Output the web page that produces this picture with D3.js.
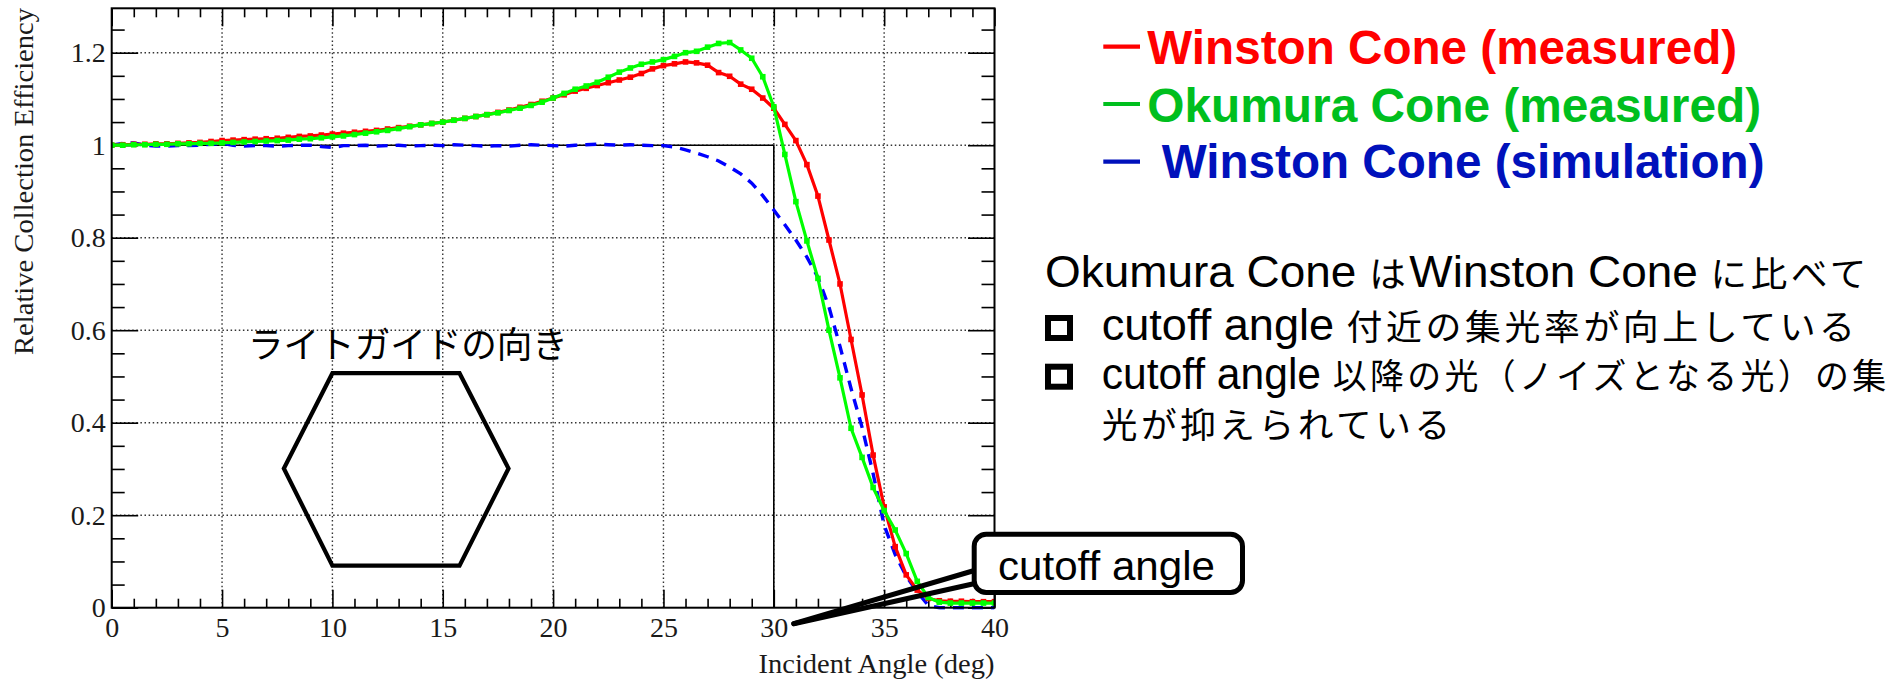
<!DOCTYPE html>
<html>
<head>
<meta charset="utf-8">
<script src="https://cdn.jsdelivr.net/npm/d3@7"></script>
<style>
  body { margin: 0; background: #fff; }
  svg { display: block; }
</style>
</head>
<body>
<svg id="chart" width="1897" height="680"></svg>
<script>
// Incident angle (deg) of each measurement point
const angles = [
  0, 0.5, 1, 1.5, 2, 2.5, 3, 3.5, 4, 4.5,
  5, 5.5, 6, 6.5, 7, 7.5, 8, 8.5, 9, 9.5,
  10, 10.5, 11, 11.5, 12, 12.5, 13, 13.5, 14, 14.5,
  15, 15.5, 16, 16.5, 17, 17.5, 18, 18.5, 19, 19.5,
  20, 20.5, 21, 21.5, 22, 22.5, 23, 23.5, 24, 24.5,
  25, 25.5, 26, 26.5, 27, 27.5, 28, 28.5, 29, 29.5,
  30, 30.5, 31, 31.5, 32, 32.5, 33, 33.5, 34, 34.5,
  35, 35.5, 36, 36.5, 37, 37.5, 38, 38.5, 39, 39.5,
  40
];

// Relative collection efficiency, Winston cone (measured)
const winstonMeasured = [
  1.000, 1.001, 1.002, 1.002, 1.003, 1.003, 1.004, 1.005, 1.006, 1.008,
  1.010, 1.011, 1.012, 1.013, 1.014, 1.015, 1.017, 1.019, 1.020, 1.022,
  1.024, 1.026, 1.028, 1.030, 1.032, 1.035, 1.038, 1.041, 1.044, 1.047,
  1.050, 1.054, 1.058, 1.062, 1.066, 1.071, 1.076, 1.082, 1.088, 1.095,
  1.102, 1.109, 1.117, 1.123, 1.129, 1.135, 1.141, 1.147, 1.155, 1.165,
  1.172, 1.176, 1.180, 1.178, 1.173, 1.157, 1.149, 1.132, 1.121, 1.102,
  1.080, 1.045, 1.010, 0.958, 0.890, 0.795, 0.700, 0.580, 0.460, 0.330,
  0.218, 0.132, 0.071, 0.038, 0.020, 0.015, 0.014, 0.014, 0.013, 0.013,
  0.013
];

// Relative collection efficiency, Okumura cone (measured)
const okumuraMeasured = [
  1.000, 1.000, 1.001, 1.001, 1.002, 1.002, 1.003, 1.003, 1.004, 1.004,
  1.005, 1.006, 1.007, 1.008, 1.009, 1.010, 1.011, 1.013, 1.014, 1.016,
  1.018, 1.020, 1.023, 1.026, 1.029, 1.032, 1.036, 1.040, 1.044, 1.047,
  1.050, 1.054, 1.058, 1.062, 1.066, 1.070, 1.075, 1.080, 1.086, 1.093,
  1.102, 1.112, 1.121, 1.128, 1.136, 1.147, 1.158, 1.167, 1.175, 1.180,
  1.185, 1.192, 1.200, 1.203, 1.212, 1.220, 1.222, 1.206, 1.188, 1.148,
  1.083, 0.980, 0.878, 0.793, 0.712, 0.600, 0.497, 0.388, 0.325, 0.260,
  0.210, 0.168, 0.117, 0.057, 0.022, 0.012, 0.010, 0.010, 0.010, 0.010,
  0.010
];

// Relative collection efficiency, Winston cone (simulation)
const winstonSimulation = [
  1.000, 1.004, 1.005, 1.000, 0.998, 0.998, 0.999, 0.999, 1.000, 1.002,
  1.004, 1.000, 0.998, 0.999, 0.999, 0.998, 0.999, 1.000, 1.000, 0.997,
  0.995, 0.999, 0.999, 1.000, 0.998, 0.999, 1.000, 0.998, 0.999, 1.000,
  0.999, 1.001, 1.000, 0.999, 0.998, 0.999, 0.998, 1.000, 1.001, 1.000,
  0.999, 0.998, 1.000, 1.001, 1.002, 1.001, 1.000, 1.001, 1.000, 0.999,
  0.999, 0.996, 0.990, 0.983, 0.975, 0.966, 0.953, 0.938, 0.918, 0.891,
  0.860, 0.828, 0.795, 0.758, 0.714, 0.650, 0.565, 0.474, 0.390, 0.290,
  0.178, 0.115, 0.068, 0.034, 0.005, 0.000, 0.000, 0.000, 0.000, 0.000,
  0.000
];

// Ideal acceptance of a cone with a 30 deg cutoff
const idealAngles = [0, 30, 30];
const idealEfficiency = [1, 1, 0];

// Axis ticks
const xTicks = [0, 5, 10, 15, 20, 25, 30, 35, 40];
const yTicks = [0, 0.2, 0.4, 0.6, 0.8, 1.0, 1.2];
const yTickLabels = ["0", "0.2", "0.4", "0.6", "0.8", "1", "1.2"];

// Legend and annotation texts
const seriesNames = ["Winston Cone (measured)", "Okumura Cone (measured)", "Winston Cone (simulation)"];
const noteLines = [
  "Okumura Cone はWinston Cone に比べて",
  "cutoff angle 付近の集光率が向上している",
  "cutoff angle 以降の光（ノイズとなる光）の集",
  "光が抑えられている"
];

// Light-guide orientation sketch, in axis units (deg, efficiency)
const hexagonAngles = [7.8, 10, 15.76, 17.98, 15.76, 10];
const hexagonEfficiency = [0.301, 0.507, 0.507, 0.301, 0.091, 0.091];

// ---------------------------------------------------------------------------
const svg = d3.select("#chart");
const SERIF = "'Liberation Serif', 'DejaVu Serif', serif";
const SANS = "'Liberation Sans', Arial, 'Noto Sans CJK JP', sans-serif";
const CJK = "'Noto Sans CJK JP', 'Noto Sans CJK SC', sans-serif";

const frame = { left: 111.7, right: 994.5, top: 8.3, bottom: 607.7 };
const x = d3.scaleLinear().domain([0, 40]).range([frame.left, frame.right]);
const y = d3.scaleLinear().domain([0, 1.296]).range([frame.bottom, frame.top]);

svg.append("rect").attr("width", 1897).attr("height", 680).attr("fill", "#fff");

// Place a left-anchored text at (x0, base) and squeeze it horizontally to a given width.
function fitText(textSel, x0, base, width) {
  const natural = textSel.node().getComputedTextLength();
  const sx = natural > 0 ? width / natural : 1;
  textSel.attr("x", 0).attr("y", 0)
    .attr("transform", `translate(${x0},${base}) scale(${sx},1)`);
}

// Write a mixed Latin / Japanese line; Japanese runs get their own size and tracking.
function mixedText(parent, str, latinSize, cjkSize, cjkTracking) {
  const t = parent.append("text").attr("font-family", SANS).attr("font-size", latinSize).attr("fill", "#000");
  const runs = str.match(/[\u3000-\u9fff\uff00-\uffef]+|[^\u3000-\u9fff\uff00-\uffef]+/g);
  runs.forEach(r => {
    const isCjk = /[\u3000-\u9fff\uff00-\uffef]/.test(r);
    const ts = t.append("tspan")
      .attr("font-family", isCjk ? CJK : SANS)
      .attr("font-size", isCjk ? cjkSize : latinSize)
      .attr("xml:space", "preserve")
      .text(r);
    if (isCjk) ts.attr("letter-spacing", cjkTracking);
  });
  return t;
}

// dotted grid at the major ticks
const grid = svg.append("g")
  .attr("stroke", "#333").attr("stroke-width", 1.4).attr("stroke-dasharray", "1.5 2.6");
grid.selectAll("line.gx").data(xTicks.filter(d => d > 0 && d < 40)).join("line")
  .attr("class", "gx")
  .attr("x1", d => x(d)).attr("x2", d => x(d))
  .attr("y1", frame.bottom).attr("y2", frame.top);
grid.selectAll("line.gy").data(yTicks.filter(d => d > 0)).join("line")
  .attr("class", "gy")
  .attr("y1", d => y(d)).attr("y2", d => y(d))
  .attr("x1", frame.left).attr("x2", frame.right);

// axes: ticks drawn inward on all four sides
const xMinor = d3.range(0, 41).filter(d => d % 5 !== 0);
const yMinor = d3.range(0, 26).filter(i => i % 4 !== 0).map(i => i * 0.05);

function styleAxis(g) {
  g.select(".domain").remove();
  g.selectAll(".tick line").attr("stroke", "#000").attr("stroke-width", 1.6);
  g.selectAll(".tick text").attr("fill", "#1a1a1a").attr("font-family", SERIF).attr("font-size", 28);
}

svg.append("g").attr("transform", `translate(0,${frame.bottom})`)
  .call(d3.axisBottom(x).tickValues(xTicks).tickSize(-18).tickPadding(9).tickFormat(d3.format("d")))
  .call(styleAxis);
svg.append("g").attr("transform", `translate(0,${frame.bottom})`)
  .call(d3.axisBottom(x).tickValues(xMinor).tickSize(-9).tickFormat(""))
  .call(styleAxis);
svg.append("g").attr("transform", `translate(0,${frame.top})`)
  .call(d3.axisTop(x).tickValues(xTicks).tickSize(-18).tickFormat(""))
  .call(styleAxis);
svg.append("g").attr("transform", `translate(0,${frame.top})`)
  .call(d3.axisTop(x).tickValues(xMinor).tickSize(-9).tickFormat(""))
  .call(styleAxis);

svg.append("g").attr("transform", `translate(${frame.left},0)`)
  .call(d3.axisLeft(y).tickValues(yTicks).tickSize(-26.5).tickPadding(6)
    .tickFormat((d, i) => yTickLabels[i]))
  .call(styleAxis);
svg.append("g").attr("transform", `translate(${frame.left},0)`)
  .call(d3.axisLeft(y).tickValues(yMinor).tickSize(-13).tickFormat(""))
  .call(styleAxis);
svg.append("g").attr("transform", `translate(${frame.right},0)`)
  .call(d3.axisRight(y).tickValues(yTicks).tickSize(-26.5).tickFormat(""))
  .call(styleAxis);
svg.append("g").attr("transform", `translate(${frame.right},0)`)
  .call(d3.axisRight(y).tickValues(yMinor).tickSize(-13).tickFormat(""))
  .call(styleAxis);

// axis titles
svg.append("text")
  .attr("x", frame.right).attr("y", 673)
  .attr("text-anchor", "end")
  .attr("font-family", SERIF).attr("font-size", 28).attr("fill", "#1a1a1a")
  .attr("textLength", 236).attr("lengthAdjust", "spacingAndGlyphs")
  .text("Incident Angle (deg)");
svg.append("text")
  .attr("transform", "translate(33,8) rotate(-90)")
  .attr("text-anchor", "end")
  .attr("font-family", SERIF).attr("font-size", 28).attr("fill", "#1a1a1a")
  .attr("textLength", 347).attr("lengthAdjust", "spacingAndGlyphs")
  .text("Relative Collection Efficiency");

// ideal step response
const line = d3.line().x(d => x(d[0])).y(d => y(d[1]));
svg.append("path")
  .datum(idealAngles.map((a, i) => [a, idealEfficiency[i]]))
  .attr("d", line)
  .attr("fill", "none").attr("stroke", "#000").attr("stroke-width", 1.6);

// data series
const plot = svg.append("g");
const clip = svg.append("clipPath").attr("id", "plotClip");
clip.append("rect")
  .attr("x", frame.left).attr("y", frame.top)
  .attr("width", frame.right - frame.left).attr("height", frame.bottom - frame.top + 2);
plot.attr("clip-path", "url(#plotClip)");

const simPts = angles.map((a, i) => [a, winstonSimulation[i]]);
plot.append("path").datum(simPts).attr("d", line)
  .attr("fill", "none").attr("stroke", "#0000ff").attr("stroke-width", 3.4)
  .attr("stroke-dasharray", "11 8");

const measured = [
  { values: winstonMeasured, color: "#ff0000" },
  { values: okumuraMeasured, color: "#00ff00" }
];
measured.forEach(s => {
  const pts = angles.map((a, i) => [a, s.values[i]]);
  plot.append("path").datum(pts).attr("d", line)
    .attr("fill", "none").attr("stroke", s.color).attr("stroke-width", 3.2)
    .attr("stroke-linejoin", "round");
  plot.append("g").selectAll("rect").data(pts).join("rect")
    .attr("x", d => x(d[0]) - 2.8).attr("y", d => y(d[1]) - 2.8)
    .attr("width", 5.6).attr("height", 5.6)
    .attr("fill", s.color);
});

// frame
svg.append("rect")
  .attr("x", frame.left).attr("y", frame.top)
  .attr("width", frame.right - frame.left).attr("height", frame.bottom - frame.top)
  .attr("fill", "none").attr("stroke", "#000").attr("stroke-width", 2);

// light-guide orientation sketch
svg.append("path")
  .datum(hexagonAngles.map((a, i) => [a, hexagonEfficiency[i]]))
  .attr("d", d3.line().x(d => x(d[0])).y(d => y(d[1])).curve(d3.curveLinearClosed))
  .attr("fill", "none").attr("stroke", "#000").attr("stroke-width", 4.2)
  .attr("stroke-linejoin", "miter");
const guideTitle = svg.append("text")
  .attr("font-family", CJK).attr("font-size", 36).attr("fill", "#000")
  .text("ライトガイドの向き");
fitText(guideTitle, 248, 358, 320);

// cutoff-angle callout pointing at the 30 deg label
const tip = [x(30) + 20, frame.bottom + 16];
const callout = svg.append("g");
[570, 583.3].forEach(yy => {
  callout.append("line")
    .attr("x1", tip[0]).attr("y1", tip[1]).attr("x2", 976).attr("y2", yy)
    .attr("stroke", "#000").attr("stroke-width", 5).attr("stroke-linecap", "round");
});
callout.append("rect")
  .attr("x", 974.2).attr("y", 534.2).attr("width", 268.3).attr("height", 58.3)
  .attr("rx", 12).attr("ry", 12)
  .attr("fill", "#fff").attr("stroke", "#000").attr("stroke-width", 5);
const calloutText = callout.append("text")
  .attr("font-family", SANS).attr("font-size", 40).attr("fill", "#000")
  .text("cutoff angle");
fitText(calloutText, 998, 580, 217);

// legend
const legend = [
  { name: seriesNames[0], color: "#ff0000", dashY: 46.7, textX: 1147.3, base: 64.3, len: 590 },
  { name: seriesNames[1], color: "#00bf1e", dashY: 104, textX: 1147.3, base: 121.7, len: 614 },
  { name: seriesNames[2], color: "#0011bb", dashY: 161.7, textX: 1161.7, base: 178.3, len: 603 }
];
const lg = svg.append("g");
legend.forEach(d => {
  lg.append("line")
    .attr("x1", 1103.3).attr("x2", 1140).attr("y1", d.dashY).attr("y2", d.dashY)
    .attr("stroke", d.color).attr("stroke-width", 4.2);
  const t = lg.append("text")
    .attr("font-family", SANS).attr("font-weight", "bold").attr("font-size", 48)
    .attr("fill", d.color)
    .text(d.name);
  fitText(t, d.textX, d.base, d.len);
});

// comparison notes
const notes = [
  { text: noteLines[0], x: 1045, base: 286.7, len: 825, bullet: false },
  { text: noteLines[1], x: 1101.7, base: 340, len: 757, bullet: true },
  { text: noteLines[2], x: 1101.7, base: 388.7, len: 788, bullet: true },
  { text: noteLines[3], x: 1101.7, base: 437.5, len: 352, bullet: false }
];
const ng = svg.append("g");
notes.forEach(n => {
  const t = mixedText(ng, n.text, 44, 35, 3.5);
  fitText(t, n.x, n.base, n.len);
  if (n.bullet) {
    ng.append("rect")
      .attr("x", 1048).attr("y", n.base - 22).attr("width", 22).attr("height", 20)
      .attr("fill", "#fff").attr("stroke", "#000").attr("stroke-width", 6);
  }
});
</script>
</body>
</html>
